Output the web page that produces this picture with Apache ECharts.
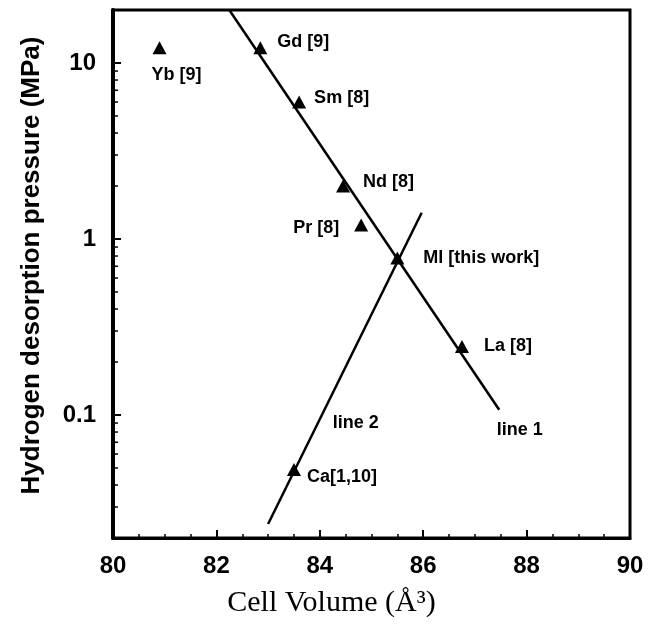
<!DOCTYPE html>
<html>
<head>
<meta charset="utf-8">
<script src="https://cdn.jsdelivr.net/npm/echarts@6/dist/echarts.min.js"></script>
<style>
  html, body { margin: 0; padding: 0; background: #fff; }
  #chart { width: 653px; height: 629px; }
</style>
</head>
<body>
<div id="chart"></div>
<script>
// Hydrogen desorption pressure of hydride-forming compounds against unit cell volume
const sampleNames   = ['Yb [9]', 'Gd [9]', 'Sm [8]', 'Nd [8]', 'Pr [8]', 'Ml [this work]', 'La [8]', 'Ca[1,10]'];
const cellVolumes   = [80.9, 82.85, 83.6, 84.45, 84.8, 85.5, 86.75, 83.5];
const pressures     = [12.2, 12.2, 6.0, 2.0, 1.2, 0.78, 0.245, 0.049];

// Fitted trend lines (end points)
const line1Volumes   = [82.25, 87.47];
const line1Pressures = [20, 0.107];
const line2Volumes   = [83.0, 85.97];
const line2Pressures = [0.024, 1.41];
const lineNames      = ['line 1', 'line 2'];

// Axis ticks
const volumeTicks   = [80, 82, 84, 86, 88, 90];
const pressureTicks = [0.1, 1, 10];
const pressureRange = [0.02, 20];
const minorMultiples = [2, 3, 4, 5, 6, 7, 8, 9];
const decades = [0.01, 0.1, 1, 10];

const SANS = "'Liberation Sans', Arial, Helvetica, sans-serif";
const SERIF = "'Liberation Serif', 'Times New Roman', serif";

const MARK_W = 14, MARK_H = 13;
// Label placement around each triangle (pixels, relative to the marker centre)
const labelPlacement = {
  'Yb [9]':         { align: 'left',  offset: [-8, 27] },
  'Gd [9]':         { align: 'left',  offset: [17, -6] },
  'Sm [8]':         { align: 'left',  offset: [15, -4] },
  'Nd [8]':         { align: 'left',  offset: [20, -4] },
  'Pr [8]':         { align: 'right', offset: [-22, 3] },
  'Ml [this work]': { align: 'left',  offset: [26, 0] },
  'La [8]':         { align: 'left',  offset: [22, 0] },
  'Ca[1,10]':       { align: 'left',  offset: [13, 8] }
};
// Where the line names sit, in data coordinates
const lineNameAnchor = { 'line 1': [87.43, 0.082], 'line 2': [84.26, 0.09] };

const minorPressureTicks = [];
decades.forEach(d => minorMultiples.forEach(m => {
  const v = +(d * m).toPrecision(3);
  if (v > pressureRange[0] && v < pressureRange[1]) minorPressureTicks.push(v);
}));

const labelFont = { fontFamily: SANS, fontWeight: 'bold', fontSize: 18, color: '#000' };

const pointData = sampleNames.map((n, i) => {
  const pl = labelPlacement[n];
  return {
    name: n,
    value: [cellVolumes[i], pressures[i]],
    label: {
      show: true,
      formatter: n,
      // position is measured from the marker's top-left corner
      position: [MARK_W / 2 + pl.offset[0], MARK_H / 2 + pl.offset[1]],
      align: pl.align,
      verticalAlign: 'middle',
      ...labelFont
    }
  };
});

function lineSeries(name, xs, ys) {
  return {
    type: 'line',
    name: name,
    data: xs.map((x, i) => [x, ys[i]]),
    showSymbol: false,
    symbol: 'none',
    lineStyle: { color: '#000', width: 2.5 },
    silent: true,
    z: 3,
    markPoint: {
      symbol: 'rect',
      symbolSize: 1,
      itemStyle: { color: 'rgba(0,0,0,0)' },
      silent: true,
      data: [{
        coord: lineNameAnchor[name],
        label: {
          show: true,
          formatter: name,
          position: [0, 0],
          align: 'left',
          verticalAlign: 'middle',
          ...labelFont
        }
      }]
    }
  };
}

const chart = echarts.init(document.getElementById('chart'), null, { renderer: 'canvas' });

chart.setOption({
  animation: false,
  backgroundColor: '#fff',
  grid: {
    left: 113, right: 23, top: 10, bottom: 91,
    show: true, borderColor: '#000', borderWidth: 3
  },
  xAxis: {
    type: 'value',
    min: volumeTicks[0],
    max: volumeTicks[volumeTicks.length - 1],
    interval: volumeTicks[1] - volumeTicks[0],
    name: 'Cell Volume (Å³)',
    nameLocation: 'middle',
    nameGap: 50,
    nameTextStyle: { fontFamily: SERIF, fontSize: 30, color: '#000', padding: [0, 80, 0, 0] },
    axisLine: { show: true, onZero: false, lineStyle: { color: '#000', width: 3 } },
    axisTick: { show: true, inside: true, length: 8, lineStyle: { color: '#000', width: 2 } },
    minorTick: { show: true, splitNumber: 4, length: 4, lineStyle: { color: '#000', width: 1.5 } },
    splitLine: { show: false },
    minorSplitLine: { show: false },
    axisLabel: {
      margin: 16, fontFamily: SANS, fontSize: 24, fontWeight: 'bold', color: '#000',
      formatter: v => volumeTicks.includes(v) ? String(v) : ''
    }
  },
  yAxis: {
    type: 'log',
    logBase: 10,
    min: pressureRange[0],
    max: pressureRange[1],
    name: 'Hydrogen desorption pressure (MPa)',
    nameLocation: 'middle',
    nameRotate: 90,
    nameGap: 68,
    nameTextStyle: { fontFamily: SANS, fontSize: 26, fontWeight: 'bold', color: '#000', padding: [0, 0, 0, 17] },
    axisLine: { show: true, onZero: false, lineStyle: { color: '#000', width: 4 } },
    axisTick: { show: true, inside: true, length: 8, lineStyle: { color: '#000', width: 2 } },
    minorTick: { show: false },
    splitLine: { show: false },
    axisLabel: {
      margin: 17, fontFamily: SANS, fontSize: 24, fontWeight: 'bold', color: '#000',
      showMinLabel: false, showMaxLabel: false,
      formatter: v => {
        const hit = pressureTicks.find(t => Math.abs(t - v) / t < 1e-6);
        return hit !== undefined ? String(hit) : '';
      }
    }
  },
  series: [
    lineSeries(lineNames[0], line1Volumes, line1Pressures),
    lineSeries(lineNames[1], line2Volumes, line2Pressures),
    {
      type: 'scatter',
      name: 'samples',
      data: pointData,
      symbol: 'triangle',
      symbolSize: [MARK_W, MARK_H],
      itemStyle: { color: '#000', opacity: 1 },
      z: 4,
      silent: true
    },
    {
      // short inward minor ticks on the logarithmic pressure axis
      type: 'custom',
      name: 'minor ticks',
      data: minorPressureTicks.map(v => [volumeTicks[0], v]),
      encode: { x: 0, y: 1 },
      clip: false,
      silent: true,
      z: 5,
      renderItem: (params, api) => {
        const p = api.coord([api.value(0), api.value(1)]);
        return {
          type: 'line',
          shape: { x1: p[0], y1: p[1], x2: p[0] + 5, y2: p[1] },
          style: { stroke: '#000', lineWidth: 1.5 }
        };
      }
    }
  ]
});
</script>
</body>
</html>
